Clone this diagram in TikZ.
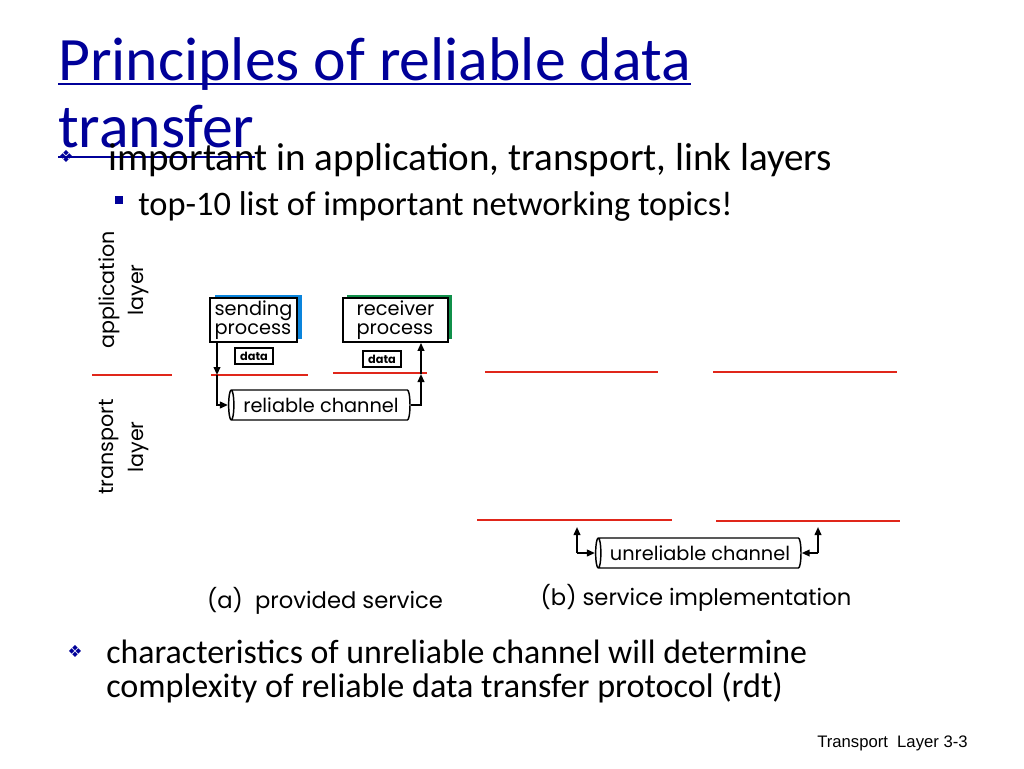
\documentclass[tikz,border=0pt]{standalone}
\usepackage{fontspec}
\setmainfont{Carlito}
\newfontfamily\diagfont{Poppins}
\newfontfamily\symfont{DejaVu Sans}
\newfontfamily\footfont{Liberation Sans}
\usetikzlibrary{arrows.meta,calc,positioning,shapes.geometric,shadows}
\definecolor{slideblue}{HTML}{000099}
\definecolor{layerred}{HTML}{E0261A}
\definecolor{sendblue}{HTML}{0A84DC}
\definecolor{recvgreen}{HTML}{10904A}

\begin{document}
\begin{tikzpicture}[x=0.75pt,y=-0.75pt,>={Triangle[length=6pt,width=5pt]},
  every node/.style={inner sep=0pt},
  bodytext/.style={anchor=base west,font=\fontsize{29.3}{34}\selectfont},
  procbox/.style={draw,line width=1.3pt,fill=white,align=left,font=\diagfont\fontsize{14.5}{14}\selectfont},
  databox/.style={draw,line width=1.5pt,font=\diagfont\bfseries\fontsize{8.5}{9}\selectfont,minimum width=28.5pt,minimum height=12.5pt},
  channel/.style={draw,line width=1.1pt,cylinder,shape border rotate=180,aspect=0.35,minimum height=136pt,minimum width=22.5pt,font=\diagfont\fontsize{14.5}{14}\selectfont},
  arr/.style={->,line width=1.3pt},
  redline/.style={layerred,line width=2.2pt},
  caption/.style={font=\diagfont\fontsize{17}{18}\selectfont}]
  \fill[white] (0,0) rectangle (1024,768);
  \useasboundingbox (0,0) rectangle (1024,768);

  % title and bullets
  \node[anchor=base west,text=slideblue,font=\fontsize{46.3}{50}\selectfont] (title1) at (58,80) {Principles of reliable data};
  \node[anchor=base west,text=slideblue,font=\fontsize{46.3}{50}\selectfont] (title2) at (58,147) {transfer};
  \draw[slideblue,line width=2.2pt] ($(title1.base west)+(0,4)$) -- ($(title1.base east)+(0,4)$);
  \draw[slideblue,line width=2.2pt] ($(title2.base west)+(0,10)$) -- ($(title2.base east)+(0,10)$);
  \node[text=slideblue,font=\symfont\fontsize{12.5}{12}\selectfont] (dia1) at (66,156) {❖};
  \node[bodytext] (imp) at (108,170) {important in application, transport, link layers};
  \node[fill=slideblue,minimum size=5.5pt] (sq1) at (119,200) {};
  \node[bodytext,font=\fontsize{25.8}{30}\selectfont] (top) at (138,215) {top-10 list of important networking topics!};

  % layer labels
  \node[rotate=90,align=center,font=\diagfont\fontsize{15.5}{22}\selectfont] (applab) at (124,290) {application\\layer};
  \node[rotate=90,align=center,font=\diagfont\fontsize{15.5}{22}\selectfont] (translab) at (124,447) {transport\\layer};

  % red layer borders
  \draw[redline] (92,375) -- (172,375);
  \draw[redline] (211,375) -- (308,375);
  \draw[redline] (333,373) -- (427,373);
  \draw[redline] (485,372) -- (658,372);
  \draw[redline] (713,372) -- (897,372);
  \draw[layerred,line width=1.1pt] (477,520) -- (672,520);
  \draw[redline] (716,521) -- (900,521);

  % (a) provided service
  \node[procbox,minimum width=65pt,minimum height=33pt,general shadow={fill=sendblue,shadow xshift=3.8pt,shadow yshift=2.2pt}] (send) at (253.5,320) {sending\\process};
  \node[procbox,minimum width=78.5pt,minimum height=33pt,general shadow={fill=recvgreen,shadow xshift=3.2pt,shadow yshift=2.6pt}] (recv) at (395.5,320) {receiver\\process};
  \node[databox] (data1) at (254,356) {data};
  \node[databox] (data2) at (382,359) {data};
  \node[channel] (rel) at (321,405) {reliable channel};

  \coordinate (s1) at (217,375);
  \coordinate (s2) at (217,405);
  \coordinate (r1) at (421,405);
  \coordinate (r2) at (421,374);
  \draw[arr] (send.south -| s1) -- (s1);
  \draw[arr] (s1) -- (s2) -- (rel.west);
  \draw[arr] (rel.east) -- (r1) -- (r2);
  \draw[arr] (r2) -- (recv.south -| r2);

  % (b) service implementation
  \node[channel,minimum height=154pt] (unrel) at (700,553) {unreliable channel};
  \coordinate (u1) at (577,555);
  \coordinate (u2) at (577,527);
  \coordinate (u3) at (818,555);
  \coordinate (u4) at (818,527);
  \draw[arr] (unrel.west -| u1) -- (u2);
  \draw[arr] (unrel.west -| u1) -- (unrel.west);
  \draw[arr] (unrel.east -| u3) -- (u4);
  \draw[arr] (unrel.east -| u3) -- (unrel.east);

  \node[caption] (capa) at (325,601) {(a)\ \ provided service};
  \node[caption] (capb) at (696,598) {(b) service implementation};

  % bottom bullet and footer
  \node[text=slideblue,font=\symfont\fontsize{12.5}{12}\selectfont] (dia2) at (75,651) {❖};
  \node[bodytext,font=\fontsize{25.4}{30}\selectfont] (char1) at (106,663) {characteristics of unreliable channel will determine};
  \node[bodytext,font=\fontsize{25.6}{30}\selectfont] (char2) at (106,697) {complexity of reliable data transfer protocol (rdt)};
  \node[anchor=base west,font=\footfont\fontsize{12.5}{12}\selectfont] (foot) at (817,747) {Transport\ \ Layer 3-3};
\end{tikzpicture}
\end{document}
